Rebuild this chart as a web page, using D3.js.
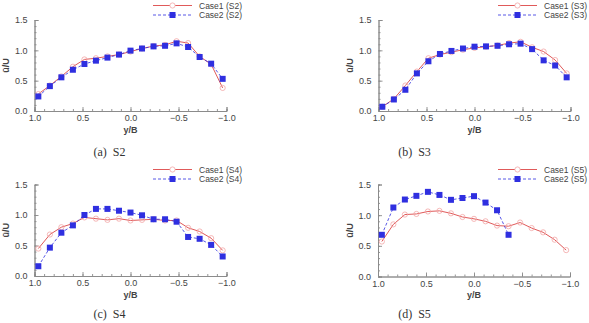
<!DOCTYPE html>
<html><head><meta charset="utf-8">
<script src="https://cdn.jsdelivr.net/npm/d3@7/dist/d3.min.js"></script>
<style>body{margin:0;background:#fff}svg{display:block}</style>
</head><body>
<script>
const yB = [0.96,0.84,0.72,0.60,0.48,0.36,0.24,0.12,0.0,-0.12,-0.24,-0.36,-0.48,-0.60,-0.72,-0.84,-0.96];
const s2Case1 = [0.28,0.42,0.57,0.73,0.85,0.87,0.90,0.93,0.98,1.03,1.07,1.09,1.15,1.12,0.90,0.77,0.38];
const s2Case2 = [0.24,0.41,0.555,0.68,0.775,0.83,0.88,0.93,0.995,1.03,1.065,1.075,1.115,1.055,0.89,0.78,0.53];
const s3Case1 = [0.07,0.20,0.42,0.65,0.87,0.93,0.97,1.01,1.04,1.06,1.08,1.12,1.14,1.05,0.98,0.84,0.62];
const s3Case2 = [0.07,0.19,0.35,0.62,0.82,0.94,0.99,1.03,1.06,1.065,1.075,1.10,1.11,1.02,0.835,0.75,0.555];
const s4Case1 = [0.45,0.68,0.80,0.86,0.96,0.94,0.92,0.94,0.91,0.92,0.93,0.91,0.91,0.79,0.73,0.62,0.42];
const s4Case2 = [0.16,0.465,0.71,0.83,1.00,1.10,1.10,1.07,1.04,0.995,0.93,0.93,0.89,0.64,0.61,0.51,0.32];
const s5Case1 = [0.57,0.85,1.01,1.02,1.06,1.07,1.03,0.97,0.94,0.90,0.83,0.82,0.88,0.79,0.72,0.60,0.43];
const s5Case2 = [0.68,1.125,1.255,1.315,1.38,1.33,1.25,1.28,1.31,1.205,1.08,0.68];
const xTicks = [1.0,0.5,0.0,-0.5,-1.0];
const yTicks = [0.0,0.5,1.0,1.5];
const panelNames = ["S2","S3","S4","S5"];
const captions = ["(a)\u00a0\u00a0S2","(b)\u00a0\u00a0S3","(c)\u00a0\u00a0S4","(d)\u00a0\u00a0S5"];
const case1 = [s2Case1,s3Case1,s4Case1,s5Case1];
const case2 = [s2Case2,s3Case2,s4Case2,s5Case2];

const W=589,H=323;
const svg=d3.select("body").append("svg").attr("width",W).attr("height",H);
const layout=[
 {x0:34.5,x1:226.5,y0:111,y1:20,lx:153,ly:5.5,cap:152,ylx:5},
 {x0:378.5,x1:570.5,y0:111,y1:20,lx:498,ly:5.5,cap:152,ylx:349},
 {x0:34.5,x1:226.5,y0:276,y1:184.5,lx:153,ly:169.5,cap:314,ylx:5},
 {x0:378,x1:570,y0:276.5,y1:184.5,lx:498,ly:169.5,cap:314,ylx:349}
];
const font="'Liberation Sans',Arial,sans-serif";
const red="#e05a5a", pink="#f2a6a6", blue="#2f2fe0";

layout.forEach((L,i)=>{
  const x=d3.scaleLinear().domain([1,-1]).range([L.x0,L.x1]);
  const y=d3.scaleLinear().domain([0,1.5]).range([L.y0,L.y1]);
  const g=svg.append("g");
  const gxm=g.append("g").attr("transform",`translate(0,${L.y0})`)
    .call(d3.axisBottom(x).tickValues(d3.range(-10,11).map(d=>d/10)).tickSize(-2).tickFormat(""));
  const gym=g.append("g").attr("transform",`translate(${L.x0},0)`)
    .call(d3.axisLeft(y).tickValues(d3.range(0,16).map(d=>d/10)).tickSize(-2).tickFormat(""));
  const gx=g.append("g").attr("transform",`translate(0,${L.y0})`)
    .call(d3.axisBottom(x).tickValues(xTicks).tickSize(-4).tickPadding(4).tickFormat(d3.format(".1f")));
  const gy=g.append("g").attr("transform",`translate(${L.x0},0)`)
    .call(d3.axisLeft(y).tickValues(yTicks).tickSize(-4).tickPadding(7).tickFormat(d3.format(".1f")));
  [gxm,gym,gx,gy].forEach(a=>{
    a.selectAll("path").attr("stroke","#8a8a8a").attr("stroke-width",0.9);
    a.selectAll("line").attr("stroke","#8a8a8a").attr("stroke-width",0.9);
    a.selectAll("text").attr("fill","#444").attr("font-family",font).attr("font-size","9px");
  });
  g.append("text").attr("x",(L.x0+L.x1)/2).attr("y",L.y0+21.5).attr("text-anchor","middle")
    .attr("font-family",font).attr("font-weight","bold").attr("font-size","9px").attr("fill","#444").text("y/B");
  g.append("text").attr("transform",`translate(${L.ylx+4},${(L.y0+L.y1)/2}) rotate(-90)`).attr("text-anchor","middle")
    .attr("font-family",font).attr("font-weight","bold").attr("font-size","9px").attr("fill","#444").text("ū/U");
  const d1=case1[i].map((v,k)=>[yB[k],v]);
  const d2=case2[i].map((v,k)=>[yB[k],v]);
  const line=d3.line().x(d=>x(d[0])).y(d=>y(d[1]));
  g.append("path").attr("d",line(d1)).attr("fill","none").attr("stroke",red).attr("stroke-width",1);
  g.selectAll(".c1").data(d1).enter().append("circle").attr("cx",d=>x(d[0])).attr("cy",d=>y(d[1])).attr("r",2.6)
    .attr("fill","none").attr("stroke",pink).attr("stroke-width",0.8);
  g.append("path").attr("d",line(d2)).attr("fill","none").attr("stroke",blue).attr("stroke-width",0.8).attr("stroke-dasharray","3,2");
  g.selectAll(".c2").data(d2).enter().append("rect").attr("x",d=>x(d[0])-3).attr("y",d=>y(d[1])-3).attr("width",6).attr("height",6)
    .attr("fill",blue);
  const lg=g.append("g").attr("transform",`translate(${L.lx},${L.ly})`);
  lg.append("line").attr("x1",0).attr("x2",39).attr("y1",0).attr("y2",0).attr("stroke",red).attr("stroke-width",1);
  lg.append("circle").attr("cx",19.5).attr("cy",0).attr("r",2.6).attr("fill","#fff").attr("stroke",pink).attr("stroke-width",0.8);
  lg.append("text").attr("x",46).attr("y",3).attr("font-family",font).attr("font-size","8.5px").attr("fill","#444").text(`Case1 (${panelNames[i]})`);
  lg.append("line").attr("x1",0).attr("x2",39).attr("y1",9.5).attr("y2",9.5).attr("stroke",blue).attr("stroke-width",0.8).attr("stroke-dasharray","3,2");
  lg.append("rect").attr("x",16.5).attr("y",6.5).attr("width",6).attr("height",6).attr("fill",blue);
  lg.append("text").attr("x",46).attr("y",12.5).attr("font-family",font).attr("font-size","8.5px").attr("fill","#444").text(`Case2 (${panelNames[i]})`);
  svg.append("text").attr("x",i%2===0?109.5:414.5).attr("y",L.cap+4).attr("text-anchor","middle")
    .attr("font-family","'Liberation Serif','Times New Roman',serif").attr("font-size","12px").attr("fill","#333").text(captions[i]);
});
</script>
</body></html>
